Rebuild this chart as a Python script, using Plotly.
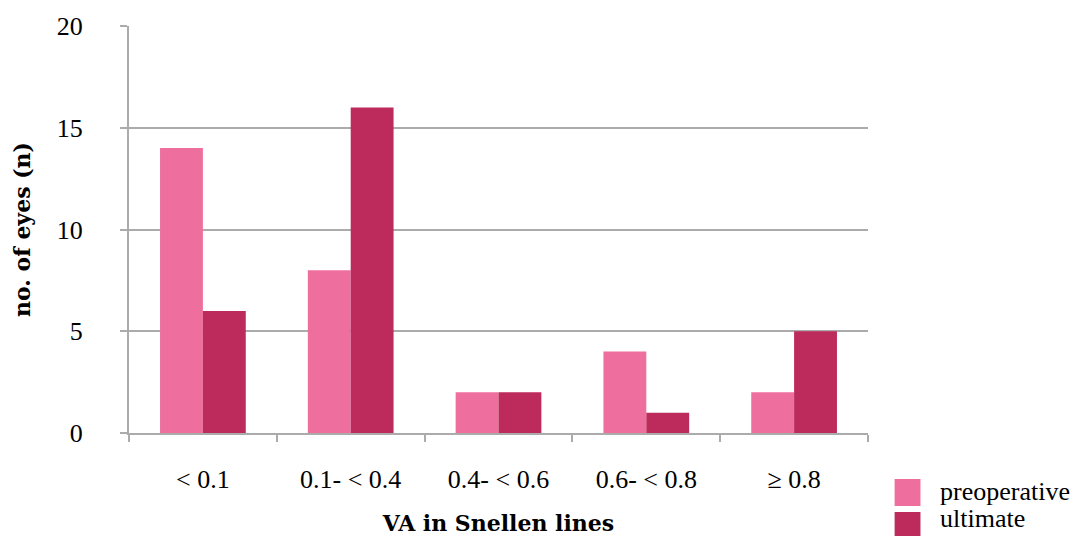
import plotly.graph_objects as go

categories = ["< 0.1", "0.1- < 0.4", "0.4- < 0.6", "0.6- < 0.8", "≥ 0.8"]
preoperative = [14, 8, 2, 4, 2]
ultimate = [6, 16, 2, 1, 5]
series_names = ["preoperative", "ultimate"]
series_colors = ["#EE6F9D", "#BC2B5B"]
y_ticks = [0, 5, 10, 15, 20]

FONT = "Liberation Serif"
TFONT = "DejaVu Serif"
GRID = "#ABABAB"

fig = go.Figure()
for name, vals, col in zip(series_names, [preoperative, ultimate], series_colors):
    fig.add_trace(go.Bar(x=categories, y=vals, name=name, marker=dict(color=col, line=dict(width=0)),
                         showlegend=False))

# manual legend (large square swatches)
PH = 407.0
text_offsets = [58, 85]
for i, (name, col) in enumerate(zip(series_names, series_colors)):
    top = -(46 + 33 * i) / PH
    fig.add_shape(type="rect", xref="paper", yref="paper",
                  x0=1.036, x1=1.071, y0=top - 27 / PH, y1=top,
                  fillcolor=col, line=dict(width=0))
    fig.add_annotation(xref="paper", yref="paper", x=1.095, y=-text_offsets[i] / PH,
                       text=name, showarrow=False, xanchor="left", yanchor="middle",
                       font=dict(family=FONT, size=26, color="#000000"))

fig.update_layout(
    width=1091, height=536,
    margin=dict(l=129, r=223, t=26, b=103, autoexpand=False),
    paper_bgcolor="white", plot_bgcolor="white",
    barmode="group", bargap=0.42, bargroupgap=0,
    font=dict(family=FONT, size=26, color="#000000"),
)
fig.update_xaxes(
    type="category", tickson="boundaries", ticks="outside", ticklen=7, tickwidth=2, tickcolor=GRID,
    showline=True, linecolor=GRID, linewidth=2, showgrid=False, automargin=False,
    ticklabelstandoff=22,
    tickfont=dict(family=FONT, size=26),
    title=dict(text="<b>VA in Snellen lines</b>", font=dict(family=TFONT, size=22), standoff=24),
)
fig.update_yaxes(
    range=[0, 20], tickvals=y_ticks, ticks="outside", ticklen=7, tickwidth=2, tickcolor=GRID,
    showline=True, linecolor=GRID, linewidth=2, showgrid=True, gridcolor=GRID, gridwidth=2,
    zeroline=False, ticklabelstandoff=32, automargin=False,
    tickfont=dict(family=FONT, size=26),
    title=dict(text="<b>no. of eyes (n)</b>", font=dict(family=TFONT, size=22), standoff=20),
)

fig.write_html("out.html")
